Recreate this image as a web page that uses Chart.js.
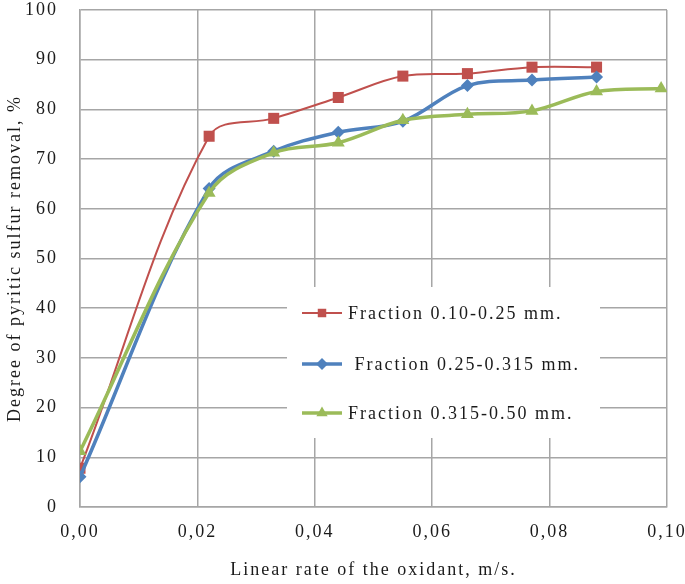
<!DOCTYPE html>
<html>
<head>
<meta charset="utf-8">
<script src="https://cdn.jsdelivr.net/npm/chart.js@4.4.1/dist/chart.umd.min.js"></script>
<style>
  html, body { margin: 0; padding: 0; background: #fff; }
  #wrap { width: 685px; height: 584px; }
</style>
</head>
<body>
<div id="wrap"><canvas id="c" width="685" height="584"></canvas></div>
<script>
/* ── DATA ── */
const seriesNames = ['Fraction 0.10-0.25 mm.', ' Fraction 0.25-0.315 mm.', 'Fraction 0.315-0.50 mm.'];
const xFine   = [0, 0.022, 0.033, 0.044, 0.055, 0.066, 0.077, 0.088];
const xCoarse = [0, 0.022, 0.033, 0.044, 0.055, 0.066, 0.077, 0.088, 0.099];
const yFine   = [7.8, 74.6, 78.2, 82.4, 86.7, 87.2, 88.5, 88.5];
const yMid    = [6.1, 64.1, 71.6, 75.4, 77.6, 84.8, 85.9, 86.5];
const yCoarse = [11.2, 63.2, 71.3, 73.3, 77.8, 79.0, 79.7, 83.6, 84.2];
const xTicks  = [0, 0.02, 0.04, 0.06, 0.08, 0.10];

const RED = '#C0504D', BLUE = '#4F81BD', GREEN = '#9BBB59';
const SERIF = '"Liberation Serif", "DejaVu Serif", serif';
const SPACING = '2px';

function pts(xs, ys) { return xs.map(function (x, i) { return { x: x, y: ys[i] }; }); }

/* ── wide-set lettering like the original ── */
const spacing = {
  id: 'spacing',
  beforeUpdate: function (chart) { chart.ctx.letterSpacing = SPACING; },
  beforeLayout: function (chart) { chart.ctx.letterSpacing = SPACING; },
  beforeDraw:   function (chart) { chart.ctx.letterSpacing = SPACING; }
};

/* ── LEGEND (boxed, inside plot) ── */
const legendBox = {
  id: 'legendBox',
  afterDatasetsDraw: function (chart) {
    const ctx = chart.ctx;
    ctx.save();
    ctx.fillStyle = '#fff';
    ctx.fillRect(287, 287, 313, 151);
    const rows = [
      { y: 313, color: RED, lw: 2, shape: 'rect', r: 6, text: seriesNames[0] },
      { y: 364, color: BLUE, lw: 3.5, shape: 'rectRot', r: 6, text: seriesNames[1] },
      { y: 413, color: GREEN, lw: 3.5, shape: 'triangle', r: 6.5, text: seriesNames[2] }
    ];
    rows.forEach(function (r) {
      ctx.strokeStyle = r.color; ctx.lineWidth = r.lw;
      ctx.beginPath(); ctx.moveTo(302, r.y); ctx.lineTo(342, r.y); ctx.stroke();
      ctx.fillStyle = r.color;
      Chart.helpers.drawPoint(ctx, { pointStyle: r.shape, radius: r.r, borderWidth: 0 }, 322, r.y);
      ctx.fillStyle = '#1a1a1a';
      ctx.letterSpacing = SPACING;
      ctx.font = '18px ' + SERIF;
      ctx.textBaseline = 'middle';
      ctx.fillText(r.text, 348, r.y + 1);
    });
    ctx.restore();
  }
};

new Chart(document.getElementById('c'), {
  type: 'line',
  data: {
    datasets: [
      { label: seriesNames[0], data: pts(xFine, yFine), borderColor: RED, backgroundColor: RED,
        borderWidth: 2, pointStyle: 'rect', pointRadius: 7.8, pointBorderWidth: 0, tension: 0.35, order: 2 },
      { label: seriesNames[1], data: pts(xFine, yMid), borderColor: BLUE, backgroundColor: BLUE,
        borderWidth: 3.5, pointStyle: 'rectRot', pointRadius: 6.5, pointBorderWidth: 0, tension: 0.35, order: 1 },
      { label: seriesNames[2], data: pts(xCoarse, yCoarse), borderColor: GREEN, backgroundColor: GREEN,
        borderWidth: 3.5, pointStyle: 'triangle', pointRadius: 7.5, pointBorderWidth: 0, tension: 0.35, order: 0 }
    ]
  },
  options: {
    responsive: false, animation: false, devicePixelRatio: 1,
    layout: { padding: { top: 10, right: 18, left: 0, bottom: 0 } },
    plugins: { legend: { display: false }, tooltip: { enabled: false } },
    scales: {
      x: {
        type: 'linear', min: 0, max: 0.10,
        afterBuildTicks: function (s) { s.ticks = xTicks.map(function (v) { return { value: v }; }); },
        afterFit: function (s) { s.height = 77; s.paddingLeft = 0; s.paddingRight = 0; },
        grid: { color: '#a6a6a6', lineWidth: 1.5, drawTicks: false },
        border: { color: '#a6a6a6', width: 1.5 },
        ticks: { padding: 14, color: '#1a1a1a', font: { family: SERIF, size: 18 },
                 maxRotation: 0, callback: function (v) { return v.toFixed(2).replace('.', ','); } },
        title: { display: true, text: 'Linear rate of the oxidant, m/s.', color: '#1a1a1a',
                 font: { family: SERIF, size: 18 }, padding: { top: 0, bottom: 3 } }
      },
      y: {
        min: 0, max: 100,
        afterFit: function (s) { s.width = 80; s.paddingTop = 0; s.paddingBottom = 0; },
        grid: { color: '#a6a6a6', lineWidth: 1.5, drawTicks: false },
        border: { color: '#a6a6a6', width: 1.5 },
        ticks: { stepSize: 10, padding: 22, color: '#1a1a1a', font: { family: SERIF, size: 18 } },
        title: { display: true, text: 'Degree of pyritic sulfur removal, %', color: '#1a1a1a',
                 font: { family: SERIF, size: 18 }, padding: { top: 4, bottom: 0 } }
      }
    }
  },
  plugins: [spacing, legendBox]
});
</script>
</body>
</html>
